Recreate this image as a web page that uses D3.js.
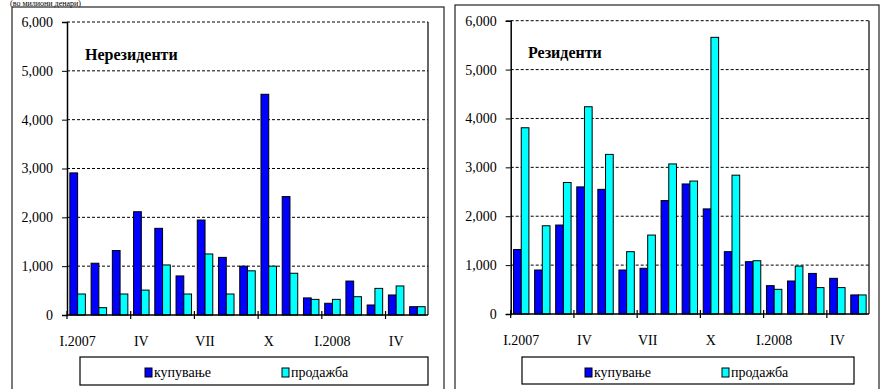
<!DOCTYPE html>
<html>
<head>
<meta charset="utf-8">
<script src="https://cdn.jsdelivr.net/npm/d3@7"></script>
<style>
  html, body { margin: 0; padding: 0; background: #fff; }
  svg { display: block; font-family: "Liberation Serif", "Times New Roman", serif; }
</style>
</head>
<body>
<svg id="chart" width="880" height="389"></svg>
<script>
// ---- data ----
const categories = ["I.2007","II.2007","III.2007","IV.2007","V.2007","VI.2007","VII.2007","VIII.2007","IX.2007","X.2007","XI.2007","XII.2007","I.2008","II.2008","III.2008","IV.2008","V.2008"];
const tickLabels = ["I.2007","","","IV","","","VII","","","X","","","I.2008","","","IV",""];
const yTicks = [0, 1000, 2000, 3000, 4000, 5000, 6000];
const seriesNames = ["купување", "продажба"];

const nonresBuy  = [2910, 1060, 1320, 2115, 1775, 800, 1945, 1180, 1000, 4520, 2425, 350, 240, 695, 205, 410, 170];
const nonresSell = [430, 150, 430, 510, 1025, 430, 1250, 430, 905, 1000, 855, 320, 320, 375, 545, 595, 170];
const resBuy     = [1320, 900, 1820, 2600, 2550, 900, 935, 2320, 2660, 2150, 1275, 1070, 580, 675, 830, 730, 390];
const resSell    = [3810, 1805, 2690, 4240, 3265, 1275, 1615, 3070, 2720, 5660, 2840, 1090, 505, 980, 540, 540, 390];

const colors = ["#0000FF", "#00FFFF"];

const svg = d3.select("#chart");

// header text (partly hidden at the top in the reference)
svg.append("text").attr("x", 10).attr("y", 6).attr("font-size", 8)
  .attr("fill", "#000").text("(во милиони денари)");

function panel(cfg) {
  const g = svg.append("g");
  // outer frame
  g.append("rect").attr("x", cfg.frame[0]).attr("y", cfg.frame[1])
    .attr("width", cfg.frame[2]).attr("height", cfg.frame[3])
    .attr("fill", "none").attr("stroke", "#222").attr("stroke-width", 1.2);

  const x0 = d3.scaleBand().domain(categories).range([cfg.left, cfg.right])
    .paddingInner(0.27).paddingOuter(0.135);
  const x1 = d3.scaleBand().domain(seriesNames).range([0, x0.bandwidth()]);
  const y = d3.scaleLinear().domain([0, 6000]).range([cfg.bottom, cfg.top]);

  // gridlines
  g.append("g").selectAll("line").data(yTicks.filter(d => d > 0)).join("line")
    .attr("x1", cfg.left).attr("x2", cfg.right)
    .attr("y1", d => y(d)).attr("y2", d => y(d))
    .attr("stroke", "#000").attr("stroke-width", 1).attr("stroke-dasharray", "3,2");

  // right plot border
  g.append("line").attr("x1", cfg.right).attr("x2", cfg.right)
    .attr("y1", cfg.top).attr("y2", cfg.bottom)
    .attr("stroke", "#000").attr("stroke-width", 1.2);

  // bars
  const rows = categories.map((c, i) => ({ c, vals: [cfg.buy[i], cfg.sell[i]] }));
  g.append("g").selectAll("g").data(rows).join("g")
    .attr("transform", d => `translate(${x0(d.c)},0)`)
    .selectAll("rect").data(d => d.vals.map((v, j) => ({ v, s: seriesNames[j], j })))
    .join("rect")
    .attr("x", d => x1(d.s)).attr("width", x1.bandwidth())
    .attr("y", d => y(d.v)).attr("height", d => y(0) - y(d.v))
    .attr("fill", d => colors[d.j]).attr("stroke", "#000").attr("stroke-width", 1);

  // y axis
  const yAxis = d3.axisLeft(y).tickValues(yTicks).tickSize(5).tickPadding(9)
    .tickFormat(d3.format(","));
  const ya = g.append("g").attr("transform", `translate(${cfg.left},0)`).call(yAxis);
  ya.select(".domain").attr("stroke", "#000").attr("stroke-width", 1.5);
  ya.selectAll("text").attr("font-size", 14).attr("font-family", "Liberation Serif").attr("fill", "#000");

  // x axis line
  g.append("line").attr("x1", cfg.left).attr("x2", cfg.right)
    .attr("y1", cfg.bottom).attr("y2", cfg.bottom)
    .attr("stroke", "#000").attr("stroke-width", 1.5);
  // x ticks every 3 categories at boundaries
  const tickIdx = d3.range(0, categories.length, 3);
  g.append("g").selectAll("line").data(tickIdx).join("line")
    .attr("x1", i => x0(categories[i]) - x0.step() * 0.135)
    .attr("x2", i => x0(categories[i]) - x0.step() * 0.135)
    .attr("y1", cfg.bottom - 4).attr("y2", cfg.bottom + 4)
    .attr("stroke", "#000").attr("stroke-width", 1.2);
  // x labels
  g.append("g").selectAll("text").data(categories.map((c, i) => ({ c, l: tickLabels[i] })).filter(d => d.l))
    .join("text")
    .attr("x", d => x0(d.c) + x0.bandwidth() / 2)
    .attr("y", cfg.bottom + 31)
    .attr("text-anchor", "middle").attr("font-size", 14).attr("fill", "#000")
    .text(d => d.l);

  // title
  g.append("text").attr("x", cfg.title[0]).attr("y", cfg.title[1])
    .attr("font-size", 16).attr("font-weight", "bold").attr("fill", "#000").text(cfg.name);

  // legend
  const L = cfg.legend;
  g.append("rect").attr("x", L[0]).attr("y", L[1]).attr("width", L[2]).attr("height", L[3])
    .attr("fill", "#fff").attr("stroke", "#000").attr("stroke-width", 1.2);
  const li = g.append("g").selectAll("g").data(seriesNames).join("g")
    .attr("transform", (d, i) => `translate(${cfg.legendX[i]},${L[1]})`);
  li.append("rect").attr("x", 0).attr("y", 11).attr("width", 7).attr("height", 9)
    .attr("fill", (d, i) => colors[i]).attr("stroke", "#000").attr("stroke-width", 1);
  li.append("text").attr("x", 9).attr("y", 20).attr("font-size", 14).attr("fill", "#000").text(d => d);
}

panel({
  name: "Нерезиденти", buy: nonresBuy, sell: nonresSell,
  frame: [12, 7, 432, 400],
  left: 67, right: 428, top: 22, bottom: 315,
  title: [85, 60],
  legend: [80, 357, 348, 28], legendX: [145, 282]
});
panel({
  name: "Резиденти", buy: resBuy, sell: resSell,
  frame: [455, 5, 424, 400],
  left: 510.7, right: 869, top: 20.7, bottom: 314,
  title: [528, 58],
  legend: [522, 357, 332, 27], legendX: [585, 722]
});
</script>
</body>
</html>
